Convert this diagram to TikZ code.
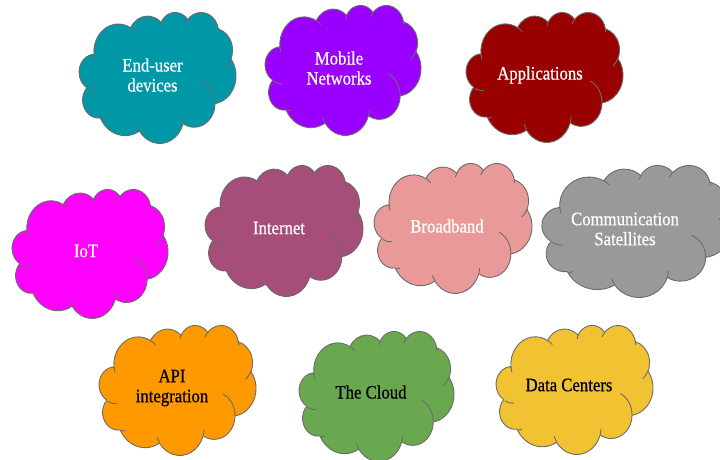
\documentclass[tikz,border=0pt]{standalone}
\usepackage{fontspec}
\newfontfamily\lblfont{Liberation Serif}[FakeStretch=0.88,FakeBold=0.6]

\definecolor{cTeal}{HTML}{0097A7}
\definecolor{cViolet}{HTML}{9900FF}
\definecolor{cMaroon}{HTML}{990000}
\definecolor{cMagenta}{HTML}{FF00FF}
\definecolor{cPlum}{HTML}{A64D79}
\definecolor{cRose}{HTML}{EA9999}
\definecolor{cGrey}{HTML}{999999}
\definecolor{cOrange}{HTML}{FF9900}
\definecolor{cGreen}{HTML}{6AA84F}
\definecolor{cGold}{HTML}{F1C232}
\definecolor{cEdge}{HTML}{6B6B6B}

% Cloud outline on a 100 x 100 box, y pointing down.
% Arcs are given with view angles; convert them to the
% parametric angles used by TikZ elliptical arcs.
\newcommand\cldouter{}
\newcommand\cldinner{}
\newcommand\cldaddarc[5]{%
  \pgfmathsetmacro\cldta{atan2((#2)*sin(#4),(#3)*cos(#4))}%
  \pgfmathsetmacro\cldtb{atan2((#2)*sin((#4)+(#5)),(#3)*cos((#4)+(#5)))}%
  \pgfmathsetmacro\cldd{\cldtb-\cldta}%
  \pgfmathsetmacro\cldd{\cldd>180 ? \cldd-360 : (\cldd<-180 ? \cldd+360 : \cldd)}%
  \xdef#1{#1 arc[start angle=\cldta, delta angle=\cldd, x radius=#2, y radius=#3]}%
}
\newcommand\cldmove[2]{\xdef\cldinner{\cldinner\space(#1,#2)}}

\gdef\cldouter{(9.028,33.264)}
\cldaddarc\cldouter{15.632}{21.273}{-190.4875}{123.7805}
\cldaddarc\cldouter{12.345}{16.822}{-144.1024}{89.9452}
\cldaddarc\cldouter{10.104}{13.762}{-145.8079}{99.7230}
\cldaddarc\cldouter{11.243}{15.266}{-130.9861}{117.2417}
\cldaddarc\cldouter{12.345}{16.836}{-78.7089}{109.0269}
\cldaddarc\cldouter{15.683}{21.343}{-46.2673}{130.2690}
\cldaddarc\cldouter{13.391}{18.211}{0.6250}{114.0333}
\cldaddarc\cldouter{15.630}{21.331}{22.4516}{115.1726}
\cldaddarc\cldouter{17.870}{24.405}{66.2426}{79.8051}
\cldaddarc\cldouter{10.093}{13.699}{-274.9421}{146.7356}
\cldaddarc\cldouter{10.058}{13.762}{-246.8285}{152.5189}

\gdef\cldinner{}
\cldmove{10.863}{60.595}\cldaddarc\cldinner{10.058}{13.762}{86.7420}{26.4295}
\cldmove{16.037}{80.785}\cldaddarc\cldinner{10.093}{13.699}{73.6105}{11.4475}
\cldmove{38.144}{90.486}\cldaddarc\cldinner{15.630}{21.331}{137.6242}{14.0811}
\cldmove{66.729}{80.442}\cldaddarc\cldinner{15.630}{21.331}{6.4533}{15.9984}
\cldmove{79.002}{53.134}\cldaddarc\cldinner{13.391}{18.211}{-70.2924}{70.9174}
\cldmove{96.755}{35.542}\cldaddarc\cldinner{12.345}{16.836}{30.3180}{27.7515}
\cldmove{88.713}{12.560}\cldaddarc\cldinner{11.243}{15.266}{-13.7443}{14.8589}
\cldmove{67.310}{9.148}\cldaddarc\cldinner{11.243}{15.266}{-149.1815}{18.1954}
\cldmove{51.252}{10.926}\cldaddarc\cldinner{10.104}{13.762}{-163.4943}{17.6864}
\cldmove{32.407}{12.019}\cldaddarc\cldinner{15.632}{21.273}{-66.7070}{12.3194}
\cldmove{9.553}{36.549}\cldaddarc\cldinner{15.632}{21.273}{157.6544}{11.8582}

% #1,#2 top-left corner, #3 width, #4 height, #5 fill colour
\newcommand\cloudshape[5]{%
  \begin{scope}[shift={(#1,#2)}, xscale=#3/100, yscale=#4/100]
    \filldraw[cloudedge, fill=#5] \cldouter -- cycle;
    \draw[cloudedge] \cldinner;
  \end{scope}}

\tikzset{
  cloudedge/.style={draw=cEdge, line width=0.9pt, line join=round},
  lbl/.style={align=center, inner sep=0pt,
    font=\lblfont\fontsize{19}{20}\selectfont},
  lightlbl/.style={lbl, text=white},
  darklbl/.style={lbl, text=black}
}

\begin{document}
\begin{tikzpicture}[x=1pt, y=1pt, yscale=-1]
  \useasboundingbox (0,0) rectangle (720,459);

  % top row
  \cloudshape{80}{12}{156}{131}{cTeal}
  \cloudshape{266}{5}{155}{130}{cViolet}
  \cloudshape{467}{12}{156}{130}{cMaroon}
  % middle row
  \cloudshape{13}{189}{155}{129}{cMagenta}
  \cloudshape{206}{165}{157}{131}{cPlum}
  \cloudshape{375}{163}{157}{130}{cRose}
  \cloudshape{543}{165}{188}{132}{cGrey}
  % bottom row
  \cloudshape{100}{325}{156}{130}{cOrange}
  \cloudshape{300}{331}{154}{130}{cGreen}
  \cloudshape{497}{325}{156}{129}{cGold}

  \node[lightlbl] (enduser) at (152.5,75) {End-user\\devices};
  \node[lightlbl] (mobile)  at (339,68)   {Mobile\\Networks};
  \node[lightlbl] (apps)    at (540,75)   {Applications};
  \node[lightlbl] (iot)     at (86,251)   {IoT};
  \node[lightlbl] (inet)    at (279,228)  {Internet};
  \node[lightlbl] (bband)   at (447,226)  {Broadband};
  \node[lightlbl] (sat)     at (625,229)  {Communication\\Satellites};
  \node[darklbl]  (api)     at (172,388)  {API\\integration};
  \node[darklbl]  (cloud)   at (371,392)  {The Cloud};
  \node[darklbl]  (dc)      at (569,385)  {Data Centers};
\end{tikzpicture}
\end{document}
